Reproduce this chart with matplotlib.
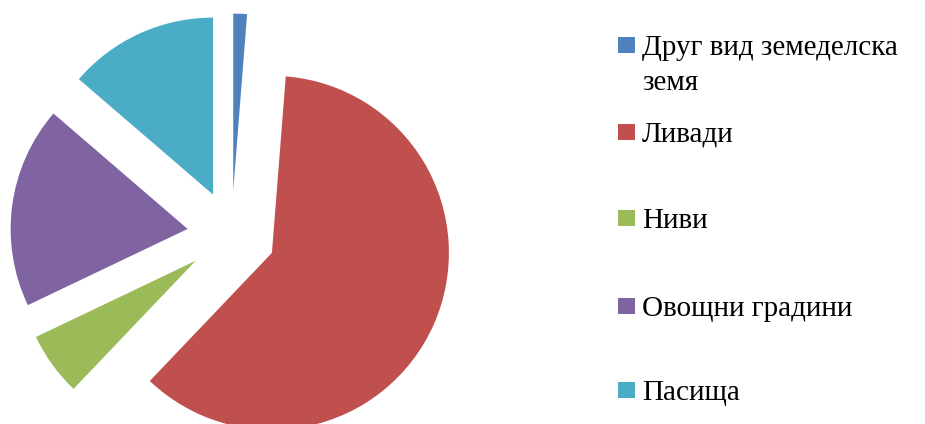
import matplotlib
matplotlib.use('Agg')
import matplotlib.pyplot as plt
from matplotlib.patches import Rectangle

# land use shares (%)
labels = ['Друг вид земеделска земя', 'Ливади', 'Ниви', 'Овощни градини', 'Пасища']
legend_lines = [['Друг вид земеделска', 'земя'], ['Ливади'], ['Ниви'], ['Овощни градини'], ['Пасища']]
shares = [1.25, 60.9, 5.8, 18.4, 13.7]
colors = ['#4F81BD', '#C0504D', '#9BBB59', '#8064A2', '#4BACC6']

W, H = 925, 424
fig = plt.figure(figsize=(W / 100, H / 100), dpi=100)
ax = fig.add_axes([0, 0, 1, 1])

# pie centre at (231.5, 234.8) px, radius 177 px
cx, cy, r = 231.5, 234.8, 177.0
ax.pie(shares, colors=colors, startangle=90, counterclock=False,
       explode=[0.25] * len(shares), radius=1.0,
       wedgeprops={'linewidth': 0})
ax.set_aspect('auto')
ax.set_xlim(-cx / r, (W - cx) / r)
ax.set_ylim(-(H - cy) / r, cy / r)
ax.axis('off')

# legend drawn by hand to follow the Excel layout
font = 'Liberation Serif'
fs = 21
sq_x, sq_w, sq_h = 618, 17, 16
text_x = 642
centres = [45, 131.5, 218, 305.5, 390]
line_gap = 35
for i, lines in enumerate(legend_lines):
    yc = centres[i]
    fig.patches.append(Rectangle((sq_x / W, 1 - (yc + sq_h / 2) / H), sq_w / W, sq_h / H,
                                 transform=fig.transFigure, facecolor=colors[i],
                                 edgecolor='none'))
    for j, line in enumerate(lines):
        fig.text(text_x / W, 1 - (yc + 10 + j * line_gap) / H, line,
                 fontsize=fs, family=font, va='baseline', ha='left', color='black')

fig.savefig('out.png', dpi=100)
